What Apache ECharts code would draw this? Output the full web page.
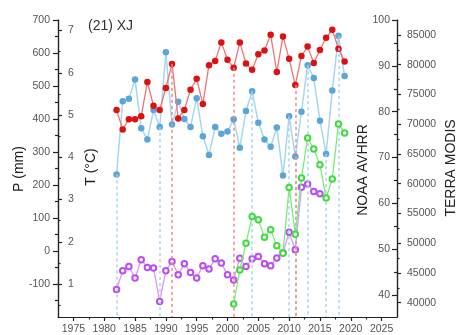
<!DOCTYPE html>
<html><head><meta charset="utf-8">
<script src="https://cdn.jsdelivr.net/npm/echarts@6/dist/echarts.min.js"></script>
<style>html,body{margin:0;padding:0;background:#fff}#c{width:462px;height:335px}</style>
</head><body><div id="c"></div>
<script>
// ---------- data ----------
var years = [1982,1983,1984,1985,1986,1987,1988,1989,1990,1991,1992,1993,1994,1995,1996,1997,1998,1999,2000,2001,2002,2003,2004,2005,2006,2007,2008,2009,2010,2011,2012,2013,2014,2015,2016,2017,2018,2019];
var precip = [232,454,461,520,372,338,427,376,602,383,452,400,376,463,348,291,376,355,362,399,313,424,484,389,338,316,374,229,408,286,422,563,524,395,294,486,652,530];
var temp = [5.12,4.66,4.90,4.90,4.97,5.78,5.22,5.12,5.64,6.21,4.92,5.12,5.60,5.86,5.26,6.18,6.28,6.72,6.31,6.12,6.72,6.22,6.07,6.44,6.53,6.90,6.02,6.86,6.33,5.71,6.40,6.62,6.23,6.54,6.83,7.02,6.57,6.27];
var noaaYears = [1982,1983,1984,1985,1986,1987,1988,1989,1990,1991,1992,1993,1994,1995,1996,1997,1998,1999,2000,2001,2002,2003,2004,2005,2006,2007,2008,2009,2010,2011,2012,2013,2014,2015];
var noaa = [41.2,45.3,46.2,43.7,47.7,46.0,45.9,38.6,45.3,47.3,44.4,46.8,44.9,43.7,46.4,45.7,47.9,47.0,44.4,43.3,48.0,46.2,47.9,48.4,46.8,46.4,48.1,49.2,53.7,49.9,63.5,64.2,62.6,62.1];
var modisYears = [2001,2002,2003,2004,2005,2006,2007,2008,2009,2010,2011,2012,2013,2014,2015,2016,2017,2018,2019];
var modis = [39780,45500,50000,54500,53930,51000,52240,49550,48300,59370,51520,60950,67680,65830,63190,57580,60780,70040,68530];
var tempBreaks = [1991,2001,2011];
var precipBreaks = [1982,1989,2004,2010,2011,2013,2016,2018];
// tick labels
var xTicks = [1975,1980,1985,1990,1995,2000,2005,2010,2015,2020,2025];
var xMinor = [1977.5,1982.5,1987.5,1992.5,1997.5,2002.5,2007.5,2012.5,2017.5,2022.5];
var pTicks = [-100,0,100,200,300,400,500,600,700];
var pMinor = [-150,-50,50,150,250,350,450,550,650];
var tTicks = [1,2,3,4,5,6,7];
var tMinor = [0.5,1.5,2.5,3.5,4.5,5.5,6.5];
var nTicks = [40,50,60,70,80,90,100];
var nMinor = [45,55,65,75,85,95];
var mTicks = [40000,45000,50000,55000,60000,65000,70000,75000,80000,85000];
var mMinor = [42500,47500,52500,57500,62500,67500,72500,77500,82500];

// ---------- chart ----------
var FONT = 'Liberation Sans, Arial, sans-serif';
var AX = {color:'#222', width:1.2};
function pairs(xs, ys){ return xs.map(function(x,i){return [x, ys[i]];}); }
function breaks(list, xs, ys, bottom){
  return list.map(function(y){ var v = ys[xs.indexOf(y)]; return [{coord:[y, v]},{coord:[y, bottom]}]; });
}
function majorAxis(o){
  return {
    type:'value', min:o.min, max:o.max, position:o.pos,
    axisLine:{show:true, onZero:false, lineStyle:AX},
    axisTick:{show:true, inside:o.inside, length:o.len, customValues:o.ticks, lineStyle:AX},
    axisLabel:{show:true, inside:o.inside, margin:o.margin, customValues:o.ticks, fontSize:10.5, color:'#555', fontFamily:FONT,
      formatter:function(v){return String(v);}},
    splitLine:{show:false}
  };
}
function minorAxis(o){
  return {
    type:'value', min:o.min, max:o.max, position:o.pos,
    axisLine:{show:false, onZero:false},
    axisTick:{show:true, inside:o.inside, length:o.len, customValues:o.ticks, lineStyle:AX},
    axisLabel:{show:false}, splitLine:{show:false}
  };
}
var chart = echarts.init(document.getElementById('c'), null, {renderer:'canvas'});
chart.setOption({
  animation:false,
  backgroundColor:'#fff',
  grid:{left:58, right:65, top:20, bottom:18, containLabel:false, outerBoundsMode:'none'},
  xAxis:[
    {type:'value', min:1972.5, max:2027.5, position:'bottom',
     axisLine:{show:true, onZero:false, lineStyle:AX},
     axisTick:{show:true, length:4, customValues:xTicks, lineStyle:AX},
     axisLabel:{customValues:xTicks, margin:7, fontSize:10.5, color:'#555', fontFamily:FONT, formatter:function(v){return String(v);}},
     splitLine:{show:false}},
    {type:'value', min:1972.5, max:2027.5, position:'bottom',
     axisLine:{show:false, onZero:false},
     axisTick:{show:true, length:2.5, customValues:xMinor, lineStyle:AX},
     axisLabel:{show:false}, splitLine:{show:false}}
  ],
  yAxis:[
    majorAxis({min:-200, max:700, pos:'left', inside:false, len:5, margin:8, ticks:pTicks}),
    majorAxis({min:0.22, max:7.25, pos:'left', inside:true, len:4, margin:10, ticks:tTicks}),
    majorAxis({min:35.2, max:100, pos:'right', inside:true, len:5, margin:7, ticks:nTicks}),
    majorAxis({min:37600, max:87500, pos:'right', inside:false, len:4, margin:10, ticks:mTicks}),
    minorAxis({min:-200, max:700, pos:'left', inside:false, len:3, ticks:pMinor}),
    minorAxis({min:0.22, max:7.25, pos:'left', inside:true, len:2.5, ticks:tMinor}),
    minorAxis({min:35.2, max:100, pos:'right', inside:true, len:3, ticks:nMinor}),
    minorAxis({min:37600, max:87500, pos:'right', inside:false, len:2.5, ticks:mMinor})
  ],
  series:[
    {name:'P', type:'line', yAxisIndex:0, data:pairs(years, precip),
     symbol:'circle', symbolSize:6.5, itemStyle:{color:'#5aa6d9'},
     lineStyle:{color:'#a6d6f1', width:1.5}, z:2,
     markLine:{silent:true, symbol:['none','none'], label:{show:false},
       lineStyle:{type:[3,3], color:'#a8d3f0', width:1.5}, data:breaks(precipBreaks, years, precip, -200)}},
    {name:'T', type:'line', yAxisIndex:1, data:pairs(years, temp),
     symbol:'circle', symbolSize:6.5, itemStyle:{color:'#dd1111'},
     lineStyle:{color:'#f07474', width:1.3}, z:3,
     markLine:{silent:true, symbol:['none','none'], label:{show:false},
       lineStyle:{type:[3,3], color:'#f08a8a', width:1.5}, data:breaks(tempBreaks, years, temp, 0.22)}},
    {name:'NOAA', type:'line', yAxisIndex:2, data:pairs(noaaYears, noaa),
     symbol:'emptyCircle', symbolSize:5.5, itemStyle:{color:'#bb4ef2', borderWidth:1.5},
     lineStyle:{color:'#d49af2', width:1.3}, z:4},
    {name:'MODIS', type:'line', yAxisIndex:3, data:pairs(modisYears, modis),
     symbol:'emptyCircle', symbolSize:5.5, itemStyle:{color:'#3fdc3f', borderWidth:1.5},
     lineStyle:{color:'#78ee78', width:1.3}, z:5}
  ],
  graphic:[
    {type:'text', x:88, y:26, style:{text:'(21) XJ', font:'14px '+FONT, fill:'#333', align:'left', verticalAlign:'middle', textAlign:'left', textVerticalAlign:'middle'}},
    {type:'text', x:19, y:169, rotation:Math.PI/2, style:{text:'P (mm)', font:'14px '+FONT, fill:'#222', align:'center', verticalAlign:'middle', textAlign:'center', textVerticalAlign:'middle'}},
    {type:'text', x:91, y:167, rotation:Math.PI/2, style:{text:'T (°C)', font:'14px '+FONT, fill:'#222', align:'center', verticalAlign:'middle', textAlign:'center', textVerticalAlign:'middle'}},
    {type:'text', x:363, y:170, rotation:Math.PI/2, style:{text:'NOAA AVHRR', font:'14px '+FONT, fill:'#222', align:'center', verticalAlign:'middle', textAlign:'center', textVerticalAlign:'middle'}},
    {type:'text', x:451, y:168, rotation:Math.PI/2, style:{text:'TERRA MODIS', font:'14px '+FONT, fill:'#222', align:'center', verticalAlign:'middle', textAlign:'center', textVerticalAlign:'middle'}}
  ]
});
</script>
</body></html>
